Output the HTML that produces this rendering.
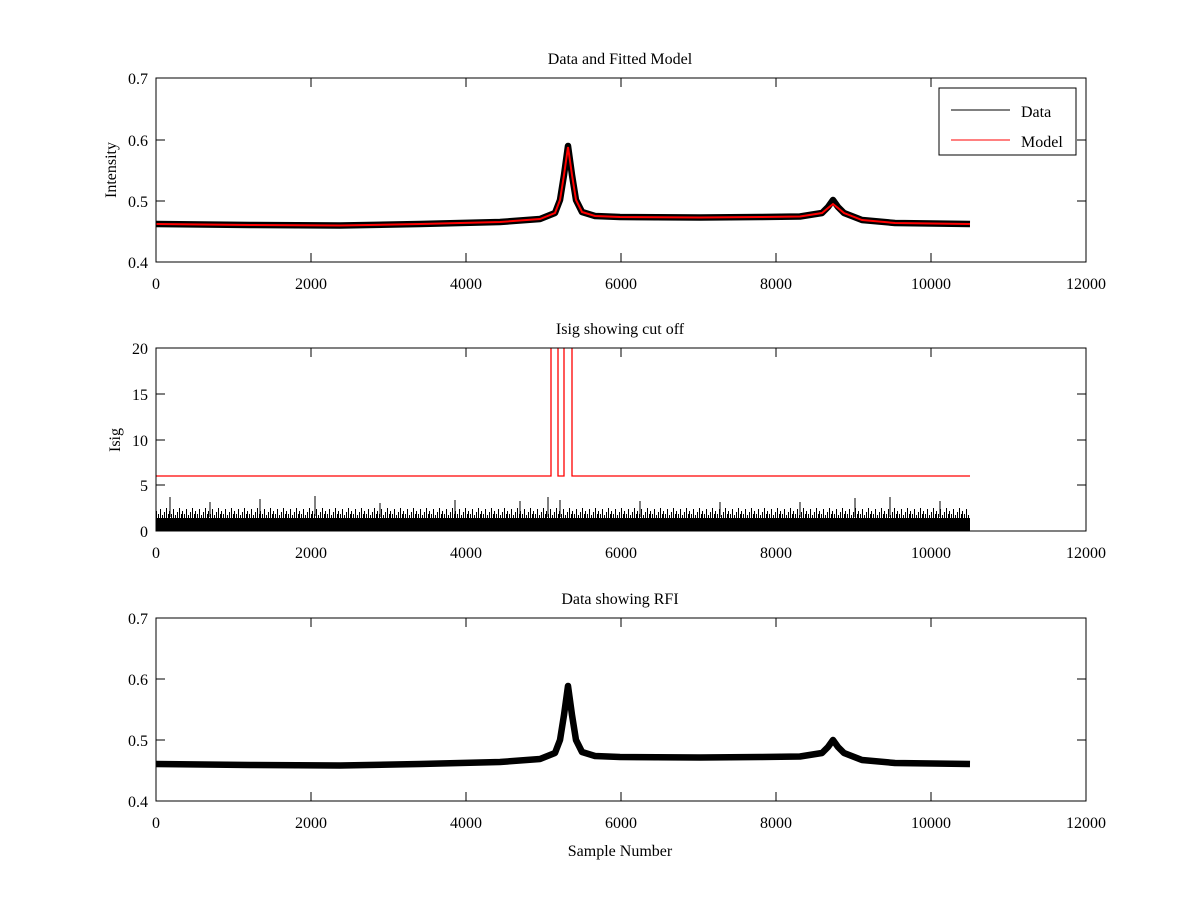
<!DOCTYPE html>
<html><head><meta charset="utf-8"><style>
body{margin:0;background:#fff}
svg text{font-family:"Liberation Serif",serif;font-size:16px;fill:#000}
</style></head><body>
<svg width="1200" height="900" xmlns="http://www.w3.org/2000/svg">
<defs>
<pattern id="nz" x="0" y="505" width="13" height="26" patternUnits="userSpaceOnUse">
<rect x="0" y="13" width="13" height="13" fill="#000"/>
<rect x="0" y="6" width="1" height="8" fill="#000"/><rect x="2" y="9" width="1" height="5" fill="#000"/>
<rect x="4" y="4" width="1" height="10" fill="#000"/><rect x="6" y="10" width="1" height="4" fill="#000"/>
<rect x="8" y="7" width="1" height="7" fill="#000"/><rect x="10" y="3" width="1" height="11" fill="#000"/>
<rect x="12" y="9" width="1" height="5" fill="#000"/>
</pattern>
<g id="dat">
<path d="M156 224L250 225L340 225.5L420 224L500 222L540 219L555 213L560 200L564 175L568 146L572 175L576 200L582 212L595 216L620 217L700 217.5L760 217L800 216.5L822 213L828 207L833 200L838 207L844 213L862 220L895 223L970 224" stroke="#000" stroke-width="6.5" fill="none" stroke-linejoin="round"/>
</g>
</defs>

<!-- Panel 1 -->
<text x="620" y="64" text-anchor="middle">Data and Fitted Model</text>
<use href="#dat"/>
<path d="M156 224L250 225L340 225.5L420 224L500 222L540 219L555 213L560 200L564 175L568 147L572 175L576 200L582 212L595 216L620 217L700 217.5L760 217L800 216.5L822 213L828 208L833 204L838 208L844 213L862 220L895 223L970 224" stroke="#f00" stroke-width="2" fill="none"/>
<rect x="156" y="78" width="930" height="184" fill="none" stroke="#000"/>
<g stroke="#000">
<path d="M156 262v-9M311 262v-9M466 262v-9M621 262v-9M776 262v-9M931 262v-9M1086 262v-9M156 78v9M311 78v9M466 78v9M621 78v9M776 78v9M931 78v9M1086 78v9"/>
<path d="M156 262h9M156 201h9M156 140h9M156 78h9M1086 262h-9M1086 201h-9M1086 140h-9M1086 78h-9"/>
</g>
<g text-anchor="middle"><text x="156" y="289">0</text><text x="311" y="289">2000</text><text x="466" y="289">4000</text><text x="621" y="289">6000</text><text x="776" y="289">8000</text><text x="931" y="289">10000</text><text x="1086" y="289">12000</text></g>
<g text-anchor="end"><text x="148" y="268">0.4</text><text x="148" y="207">0.5</text><text x="148" y="146">0.6</text><text x="148" y="84">0.7</text></g>
<text transform="translate(116,170) rotate(-90)" text-anchor="middle">Intensity</text>
<rect x="939" y="88" width="137" height="67" fill="#fff" stroke="#000"/>
<line x1="951" y1="110" x2="1010" y2="110" stroke="#000"/><text x="1021" y="117">Data</text>
<line x1="951" y1="140" x2="1010" y2="140" stroke="#f00"/><text x="1021" y="147">Model</text>

<!-- Panel 2 -->
<text x="620" y="334" text-anchor="middle">Isig showing cut off</text>
<rect x="156" y="505" width="814" height="26" fill="url(#nz)"/>
<path d="M170 497v20M210 502v15M260 499v18M315 496v20M380 503v14M455 500v17M520 501v16M548 497v20M560 500v17M640 501v16M720 502v15M800 502v15M855 498v19M890 497v20M940 501v16" stroke="#000"/>
<path d="M156 476H551V348M558 348V476H564V348M572 348V476H970" stroke="#f00" stroke-width="1.3" fill="none"/>
<rect x="156" y="348" width="930" height="183" fill="none" stroke="#000"/>
<g stroke="#000">
<path d="M156 531v-9M311 531v-9M466 531v-9M621 531v-9M776 531v-9M931 531v-9M1086 531v-9M156 348v9M311 348v9M466 348v9M621 348v9M776 348v9M931 348v9M1086 348v9"/>
<path d="M156 531h9M156 485h9M156 440h9M156 394h9M156 348h9M1086 531h-9M1086 485h-9M1086 440h-9M1086 394h-9M1086 348h-9"/>
</g>
<g text-anchor="middle"><text x="156" y="558">0</text><text x="311" y="558">2000</text><text x="466" y="558">4000</text><text x="621" y="558">6000</text><text x="776" y="558">8000</text><text x="931" y="558">10000</text><text x="1086" y="558">12000</text></g>
<g text-anchor="end"><text x="148" y="537">0</text><text x="148" y="491">5</text><text x="148" y="446">10</text><text x="148" y="400">15</text><text x="148" y="354">20</text></g>
<text transform="translate(120,440) rotate(-90)" text-anchor="middle">Isig</text>

<!-- Panel 3 -->
<text x="620" y="604" text-anchor="middle">Data showing RFI</text>
<use href="#dat" y="540"/>
<rect x="156" y="618" width="930" height="183" fill="none" stroke="#000"/>
<g stroke="#000">
<path d="M156 801v-9M311 801v-9M466 801v-9M621 801v-9M776 801v-9M931 801v-9M1086 801v-9M156 618v9M311 618v9M466 618v9M621 618v9M776 618v9M931 618v9M1086 618v9"/>
<path d="M156 801h9M156 740h9M156 679h9M156 618h9M1086 801h-9M1086 740h-9M1086 679h-9M1086 618h-9"/>
</g>
<g text-anchor="middle"><text x="156" y="828">0</text><text x="311" y="828">2000</text><text x="466" y="828">4000</text><text x="621" y="828">6000</text><text x="776" y="828">8000</text><text x="931" y="828">10000</text><text x="1086" y="828">12000</text></g>
<g text-anchor="end"><text x="148" y="807">0.4</text><text x="148" y="746">0.5</text><text x="148" y="685">0.6</text><text x="148" y="624">0.7</text></g>
<text x="620" y="856" text-anchor="middle">Sample Number</text>
</svg>
</body></html>
